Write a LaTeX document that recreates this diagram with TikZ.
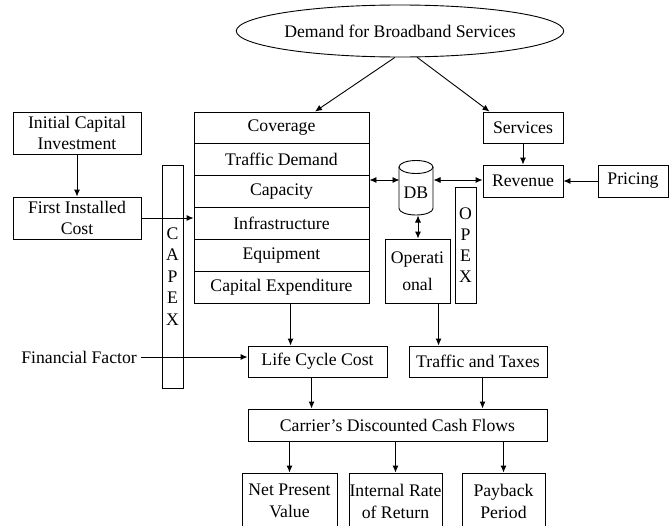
\documentclass[tikz,border=0pt]{standalone}
\usepackage{fontspec}
\setmainfont{Liberation Serif}
\usetikzlibrary{arrows.meta,calc,shapes.geometric}
\begin{document}
\begin{tikzpicture}[x=1pt,y=-1pt,
  every node/.style={font=\fontsize{17.7}{21.5}\selectfont, inner sep=0pt, align=center},
  box/.style={draw, line width=0.9pt, rectangle},
  row/.style={box, minimum width=175pt, minimum height=31.83pt},
  conn/.style={line width=0.9pt, -{Latex[length=7pt,width=6pt]}},
  bconn/.style={line width=0.9pt, {Latex[length=7pt,width=6pt]}-{Latex[length=7pt,width=6pt]}},
  lnk/.style={line width=0.9pt}]
\useasboundingbox (0,0) rectangle (669,525);
\clip (0,0) rectangle (669,525);

% top ellipse
\node[draw, ellipse, line width=0.9pt, minimum width=271pt, minimum height=52pt] (dem) at (400,31) {Demand for Broadband Services};

% left column
\node[box, minimum width=128pt, minimum height=42pt] (ici) at (77,133) {Initial Capital\\Investment};
\node[box, minimum width=128pt, minimum height=42pt] (fic) at (77,218) {First Installed\\Cost};
\node[box, minimum width=21pt, minimum height=223pt, font=\fontsize{17.7}{21.5}\selectfont] (capex) at (172.5,276.5) {C\\A\\P\\E\\X};

% stack
\node[row] (cov) at (281.5,127.9) {Coverage};
\node[row] (trd) at (281.5,159.7) {Traffic Demand};
\node[row] (cap) at (281.5,191.6) {Capacity};
\node[row] (inf) at (281.5,223.4) {Infrastructure};
\node[row] (equ) at (281.5,255.3) {Equipment};
\node[row] (cex) at (281.5,287.1) {Capital Expenditure};

% DB cylinder
\draw[lnk] (416,167) ellipse [x radius=17, y radius=6.5];
\draw[lnk] (399,167) -- (399,208.5) arc[start angle=180, end angle=0, x radius=17, y radius=6.5] -- (433,167);
\node (db) at (416,193) {DB};
\coordinate (dbw) at (399.5,180);
\coordinate (dbe) at (433.5,180);
\coordinate (dbs) at (418,215.5);

% right side
\node[box, minimum width=80pt, minimum height=31pt] (srv) at (523,127.5) {Services};
\node[box, minimum width=80pt, minimum height=32pt] (rev) at (523,181) {Revenue};
\node[box, minimum width=70pt, minimum height=32pt] (pri) at (633,181) {Pricing};
\node[box, minimum width=21pt, minimum height=116pt, font=\fontsize{17.7}{21}\selectfont] (opex) at (465.5,245) {O\\P\\E\\X};
\node[box, minimum width=65pt, minimum height=64pt, font=\fontsize{17.7}{27}\selectfont] (op) at (417.5,271) {Operati\\onal};

% lower part
\node[anchor=east] (ff) at (137,357) {Financial Factor};
\node[box, minimum width=139pt, minimum height=31pt] (lcc) at (317.5,361.5) {Life Cycle Cost};
\node[box, minimum width=138pt, minimum height=31pt] (tt) at (478,361.5) {Traffic and Taxes};
\node[box, minimum width=299pt, minimum height=32pt] (car) at (397.5,425) {Carrier's Discounted Cash Flows};
\node[box, minimum width=95pt, minimum height=56pt, font=\fontsize{17.7}{22}\selectfont] (npv) at (289.5,501) {Net Present\\Value};
\node[box, minimum width=93pt, minimum height=56pt, font=\fontsize{17.7}{22}\selectfont] (irr) at (395.5,501) {Internal Rate\\of Return};
\node[box, minimum width=83pt, minimum height=56pt, font=\fontsize{17.7}{22}\selectfont] (pay) at (503.5,501) {Payback\\Period};

% helper coordinates
\coordinate (t1) at ($(cov.north)+(33.5,0)$);
\coordinate (t2) at ($(srv.north west)+(7,0)$);
\coordinate (c1) at ($(lcc.north west)+(43,0)$);
\coordinate (c2) at ($(tt.north west)+(30,0)$);
\coordinate (c3) at ($(lcc.south west)+(64,0)$);
\coordinate (c4) at ($(tt.south west)+(74,0)$);

% connectors
\draw[conn] (dem.-101) -- (t1);
\draw[conn] (dem.-57) -- (t2);
\draw[conn] (ici.south) -- (fic.north);
\draw[conn] (fic.east) -- (fic.east -| inf.west);
\draw[bconn] (cap.east |- dbw) -- (dbw);
\draw[bconn] (dbe) -- (rev.west |- dbe);
\draw[conn] (srv.south) -- (rev.north);
\draw[conn] (pri.west) -- (rev.east);
\draw[bconn] (dbs) -- (dbs |- op.north);
\draw[conn] (cex.south -| c1) -- (c1);
\draw[conn] (op.south -| c2) -- (c2);
\draw[conn, shorten <=4pt] (ff.east) -- (ff.east -| lcc.west);
\draw[conn] (c3) -- (c3 |- car.north);
\draw[conn] (c4) -- (c4 |- car.north);
\draw[conn] (car.south -| npv.north) -- (npv.north);
\draw[conn] (car.south -| irr.north) -- (irr.north);
\draw[conn] (car.south -| pay.north) -- (pay.north);
\end{tikzpicture}
\end{document}
